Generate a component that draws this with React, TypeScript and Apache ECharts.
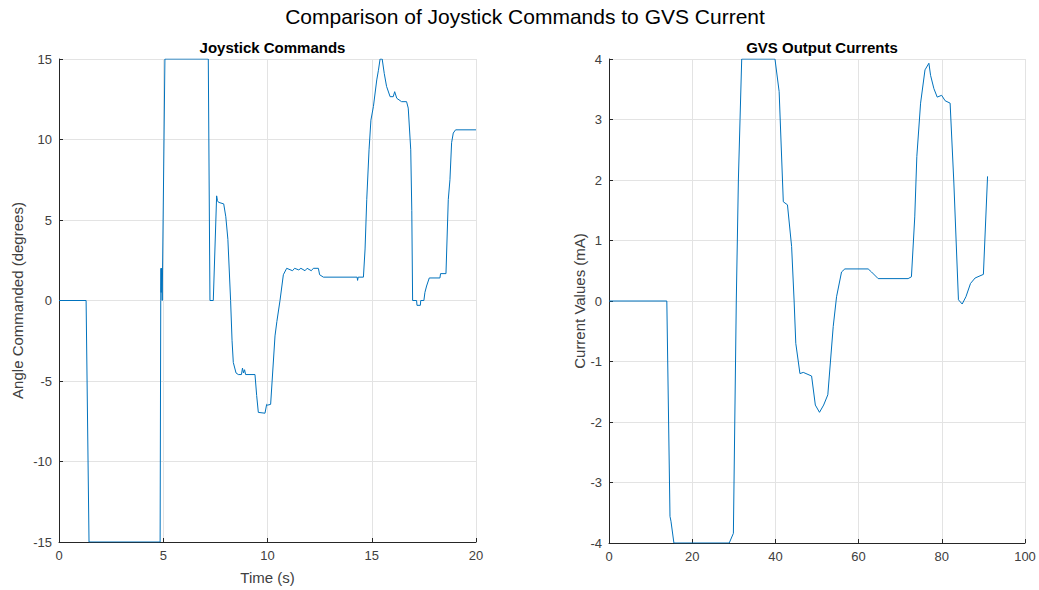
import React, { useEffect, useRef } from "react";
import * as echarts from "echarts";

// Joystick commands: [time (s), angle (degrees)]
const joystickData: [number, number][] = [
  [0, 0], [1.3, 0], [1.44, -15], [4.85, -15], [4.88, 0], [4.89, 2], [4.9, 0.5], [4.92, 2], [4.95, 0],
  [5.08, 15], [7.16, 15], [7.24, 0], [7.4, 0], [7.56, 6.5], [7.6, 6.2], [7.65, 6.1], [7.9, 6.0],
  [8.0, 5.2], [8.1, 3.8], [8.23, 0], [8.3, -2.5], [8.36, -3.85], [8.49, -4.5], [8.6, -4.6],
  [8.75, -4.6], [8.8, -4.2], [8.85, -4.5], [8.9, -4.3], [8.95, -4.6], [9.4, -4.6], [9.48, -5.9],
  [9.56, -6.95], [9.88, -7.0], [9.96, -6.45], [10.0, -6.5], [10.15, -6.45], [10.36, -2.2],
  [10.45, -1.3], [10.6, 0], [10.76, 1.6], [10.92, 2.0], [11.2, 1.85], [11.3, 2.0], [11.5, 1.9],
  [11.6, 2.0], [11.8, 1.85], [11.9, 2.0], [12.1, 1.85], [12.2, 2.0], [12.44, 2.0], [12.5, 1.6],
  [12.68, 1.45], [14.3, 1.45], [14.32, 1.25], [14.35, 1.45], [14.6, 1.45], [14.68, 3.2],
  [14.76, 6.26], [14.87, 9.36], [14.96, 11.2], [15.08, 12.05], [15.24, 13.7], [15.32, 14.3],
  [15.4, 15], [15.5, 15], [15.6, 14.1], [15.71, 13.3], [15.88, 12.66], [16.03, 12.66],
  [16.1, 12.97], [16.2, 12.56], [16.43, 12.35], [16.67, 12.35], [16.75, 11.95], [16.87, 9.36],
  [16.92, 5.6], [16.96, 0], [17.15, 0], [17.17, -0.3], [17.33, -0.3], [17.35, 0], [17.5, 0],
  [17.55, 0.5], [17.63, 0.9], [17.76, 1.4], [18.27, 1.4], [18.3, 1.67], [18.56, 1.67],
  [18.67, 6.26], [18.75, 7.5], [18.83, 9.8], [18.91, 10.4], [19.02, 10.6], [20, 10.6],
];

// GVS output currents: [x, current (mA)]
const gvsData: [number, number][] = [
  [0, 0], [13.9, 0], [14.66, -3.56], [14.9, -3.64], [15.6, -4], [28.9, -4], [29.9, -3.84],
  [30.6, 0], [31.1, 2.0], [31.5, 3.0], [31.9, 4], [39.9, 4], [40.9, 3.46], [41.9, 1.64],
  [42.9, 1.59], [43.9, 0.9], [44.5, 0], [44.9, -0.7], [45.9, -1.2], [46.7, -1.18], [48.7, -1.24],
  [49.6, -1.72], [50.6, -1.84], [51.6, -1.72], [52.6, -1.55], [53.9, -0.42], [54.7, 0.07],
  [55.9, 0.48], [56.7, 0.53], [62.3, 0.53], [63.1, 0.48], [64.7, 0.37], [71.9, 0.37],
  [72.7, 0.4], [73.5, 1.39], [74, 2.39], [74.9, 3.27], [75.96, 3.82], [76.9, 3.93],
  [77.3, 3.73], [78.1, 3.51], [78.9, 3.37], [79.96, 3.4], [80.8, 3.31], [82, 3.27],
  [82.9, 1.95], [84, 0.02], [84.9, -0.05], [85.8, 0.07], [86.9, 0.29], [88, 0.38],
  [90, 0.44], [91, 2.06],
];

const mainTitle = "Comparison of Joystick Commands to GVS Current";
const leftTitle = "Joystick Commands";
const rightTitle = "GVS Output Currents";
const leftXName = "Time (s)";
const leftYName = "Angle Commanded (degrees)";
const rightYName = "Current Values (mA)";

const FONT = "'Liberation Sans', Arial, Helvetica, sans-serif";
const TEXT = "#262626";
const LABEL = "#404040";
const GRIDC = "#e3e3e3";
const LINEC = "#0072BD";

function axisCommon() {
  return {
    axisLine: { show: true, onZero: false, lineStyle: { color: TEXT, width: 1 } },
    axisTick: { show: true, inside: true, length: 4, lineStyle: { color: TEXT } },
    axisLabel: { color: LABEL, fontSize: 13, fontFamily: FONT, margin: 7 },
    splitLine: { show: true, lineStyle: { color: GRIDC, width: 1 } },
    nameTextStyle: { color: LABEL, fontSize: 15, fontFamily: FONT },
  };
}

export default function App() {
  const ref = useRef<HTMLDivElement>(null);
  useEffect(() => {
    if (!ref.current) return;
    const chart = echarts.init(ref.current, null, { renderer: "svg" });
    chart.setOption({
      animation: false,
      backgroundColor: "#ffffff",
      title: [
        {
          text: mainTitle,
          left: 520,
          top: 1,
          textAlign: "center",
          textStyle: { color: "#000", fontSize: 21, fontWeight: "normal", fontFamily: FONT },
        },
        {
          text: leftTitle,
          left: 267.5,
          top: 35,
          textAlign: "center",
          textStyle: { color: "#000", fontSize: 15, fontWeight: "bold", fontFamily: FONT },
        },
        {
          text: rightTitle,
          left: 817,
          top: 35,
          textAlign: "center",
          textStyle: { color: "#000", fontSize: 15, fontWeight: "bold", fontFamily: FONT },
        },
      ],
      grid: [
        { left: 59, top: 59, width: 417, height: 484 },
        { left: 609, top: 59, width: 416, height: 484 },
      ],
      xAxis: [
        {
          ...axisCommon(),
          type: "value",
          gridIndex: 0,
          min: 0,
          max: 20,
          interval: 5,
          name: leftXName,
          nameLocation: "middle",
          nameGap: 28,
        },
        {
          ...axisCommon(),
          type: "value",
          gridIndex: 1,
          min: 0,
          max: 100,
          interval: 20,
        },
      ],
      yAxis: [
        {
          ...axisCommon(),
          type: "value",
          gridIndex: 0,
          min: -15,
          max: 15,
          interval: 5,
          name: leftYName,
          nameLocation: "middle",
          nameGap: 34,
        },
        {
          ...axisCommon(),
          type: "value",
          gridIndex: 1,
          min: -4,
          max: 4,
          interval: 1,
          name: rightYName,
          nameLocation: "middle",
          nameGap: 19,
        },
      ],
      series: [
        {
          type: "line",
          xAxisIndex: 0,
          yAxisIndex: 0,
          data: joystickData,
          showSymbol: false,
          symbol: "none",
          lineStyle: { color: LINEC, width: 1 },
          itemStyle: { color: LINEC },
        },
        {
          type: "line",
          xAxisIndex: 1,
          yAxisIndex: 1,
          data: gvsData,
          showSymbol: false,
          symbol: "none",
          lineStyle: { color: LINEC, width: 1 },
          itemStyle: { color: LINEC },
        },
      ],
    });
    return () => chart.dispose();
  }, []);
  return (
    <div
      ref={ref}
      style={{ position: "fixed", left: 0, top: 0, width: 1039, height: 590, background: "#fff" }}
    />
  );
}
